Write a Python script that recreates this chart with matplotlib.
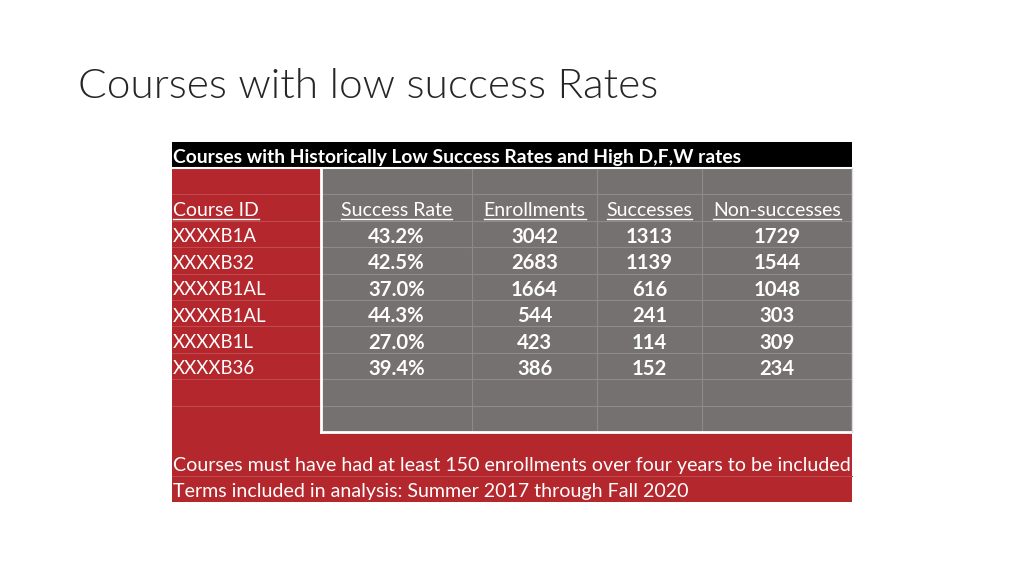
import matplotlib
matplotlib.use("Agg")
import matplotlib.pyplot as plt
from matplotlib.patches import Rectangle

# ---------------- data ----------------
title = "Courses with low success Rates"
table_title = "Courses with Historically Low Success Rates and High D,F,W rates"
columns = ["Course ID", "Success Rate", "Enrollments", "Successes", "Non-successes"]
course_ids = ["XXXXB1A", "XXXXB32", "XXXXB1AL", "XXXXB1AL", "XXXXB1L", "XXXXB36"]
success_rate = [43.2, 42.5, 37.0, 44.3, 27.0, 39.4]
enrollments = [3042, 2683, 1664, 544, 423, 386]
successes = [1313, 1139, 616, 241, 114, 152]
non_successes = [1729, 1544, 1048, 303, 309, 234]
notes = ["Courses must have had at least 150 enrollments over four years to be included",
         "Terms included in analysis: Summer 2017 through Fall 2020"]

# ---------------- style ----------------
RED = "#B3272D"
GRAY = "#767171"
RED_LINE = "#C24A4F"
GRAY_LINE = "#8E8A8A"
FONT = "Lato"

fig = plt.figure(figsize=(10.24, 5.76), dpi=100)
ax = fig.add_axes([0, 0, 1, 1])
ax.set_xlim(0, 1024)
ax.set_ylim(576, 0)
ax.axis("off")

ax.text(78, 87, title, fontsize=30.5, family=FONT, fontweight=300,
        color="#262626", va="center", ha="left")

# table geometry
x0, x1 = 172, 852
xc = [321, 472, 597, 702, 852]          # column edges of gray block
head_top, head_bot = 142, 168
n_rows = 10
row_h = (432 - 168) / n_rows
grid_top, grid_bot = 168, 432
foot_bot = 502

# header bar
ax.add_patch(Rectangle((x0, head_top), x1 - x0, head_bot - head_top, color="black", lw=0))
ax.text(x0 + 1, (head_top + head_bot) / 2 + 2, table_title, fontsize=13.9, family=FONT,
        fontweight="bold", color="white", va="center", ha="left")

# red left column & footer
ax.add_patch(Rectangle((x0, grid_top), xc[0] - x0, grid_bot - grid_top, color=RED, lw=0))
ax.add_patch(Rectangle((x0, grid_bot), x1 - x0, foot_bot - grid_bot, color=RED, lw=0))
# gray block
ax.add_patch(Rectangle((xc[0], grid_top), x1 - xc[0], grid_bot - grid_top, color=GRAY, lw=0))

# grid lines
for i in range(1, n_rows):
    y = grid_top + i * row_h
    ax.plot([x0, xc[0]], [y, y], color=RED_LINE, lw=0.8)
    ax.plot([xc[0], x1], [y, y], color=GRAY_LINE, lw=0.8)
for x in xc[1:-1]:
    ax.plot([x, x], [grid_top, grid_bot], color=GRAY_LINE, lw=0.8)
ax.plot([x0, x1], [476, 476], color=RED_LINE, lw=0.8)
# white borders
ax.plot([x0, x1], [grid_top, grid_top], color="white", lw=1.5)
ax.plot([xc[0], xc[0]], [grid_top, grid_bot], color="white", lw=2)
ax.plot([xc[0], x1], [grid_bot, grid_bot], color="white", lw=2)
ax.plot([x1, x1], [grid_top, grid_bot], color="#dddddd", lw=1)

FS = 14.0
FSB = 14.6
def row_y(i):
    return grid_top + (i + 0.5) * row_h + 3

# column headers (underlined)
hdr_texts = []
hdr_texts.append(ax.text(x0 + 1, row_y(1), columns[0], fontsize=FS, family=FONT,
                         color="white", va="center", ha="left"))
for j, c in enumerate(columns[1:]):
    cx = (xc[j] + xc[j + 1]) / 2
    hdr_texts.append(ax.text(cx, row_y(1), c, fontsize=FS, family=FONT,
                             color="white", va="center", ha="center"))

# data rows
for i in range(len(course_ids)):
    y = row_y(2 + i)
    ax.text(x0 + 1, y, course_ids[i], fontsize=13.4, family=FONT, color="white",
            va="center", ha="left")
    vals = [f"{success_rate[i]:.1f}%", f"{enrollments[i]}", f"{successes[i]}",
            f"{non_successes[i]}"]
    for j, v in enumerate(vals):
        cx = (xc[j] + xc[j + 1]) / 2
        ax.text(cx, y, v, fontsize=FSB, family=FONT, fontweight="bold", color="white",
                va="center", ha="center")

# footnotes
ax.text(x0 + 1, 465, notes[0], fontsize=14.1, family=FONT, color="white", va="center", ha="left")
ax.text(x0 + 1, 492, notes[1], fontsize=14.1, family=FONT, color="white", va="center", ha="left")

# underline headers
fig.canvas.draw()
r = fig.canvas.get_renderer()
inv = ax.transData.inverted()
for t in hdr_texts:
    bb = t.get_window_extent(r)
    (xa, ya), (xb, yb) = inv.transform([(bb.x0, bb.y0), (bb.x1, bb.y1)])
    ax.plot([xa, xb], [ya - 0.5, ya - 0.5], color="white", lw=1)

fig.savefig("out.png", dpi=100, facecolor="white")
